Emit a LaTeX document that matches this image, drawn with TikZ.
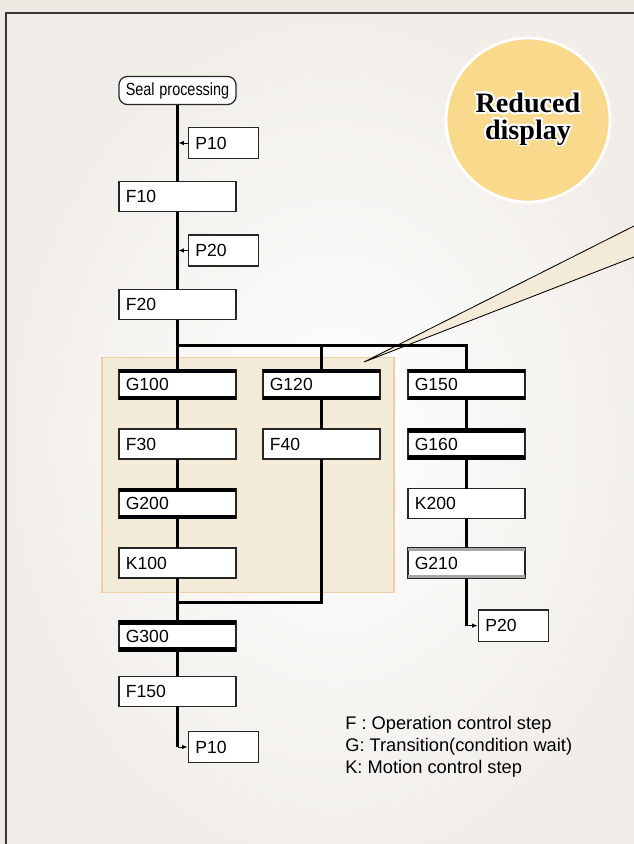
\documentclass[tikz,border=0pt]{standalone}
\usepackage{fontspec}
\setmainfont{Liberation Sans}
\newfontfamily\titlefont{Liberation Serif}
\usepackage{graphicx}
\usepackage{contour}
\contourlength{1.3pt}
\contournumber{24}
\usetikzlibrary{arrows.meta, positioning, calc, backgrounds}

\definecolor{pagegray}{RGB}{236,233,227}
\definecolor{innergray}{RGB}{241,238,233}
\definecolor{framegray}{RGB}{55,55,55}
\definecolor{hlfill}{RGB}{243,234,216}
\definecolor{hldraw}{RGB}{240,208,163}
\definecolor{badgefill}{RGB}{249,217,140}

\begin{document}
\begin{tikzpicture}[
node distance=0.7375cm and 0.675cm,
box/.style={rectangle, draw=black!85, line width=0.9pt, fill=white, outer sep=0pt, text width=2.585cm, inner xsep=0.17cm, inner ysep=0pt, minimum height=0.75cm, align=left, font=\fontsize{12.5}{14}\selectfont},
pbox/.style={box, text width=1.41cm, minimum height=0.78cm},
startbox/.style={box, rounded corners=6pt, minimum height=0.7cm, align=center},
flow/.style={line width=1.8pt},
tip/.style={-{Latex[length=1.3mm, width=1.1mm]}, line width=0.5pt, shorten >=0.8pt},
gbar/.style={line width=3pt},
dbar/.style={line width=0.5pt, double=black!35, double distance=1.6pt},
badge/.style={circle, fill=badgefill, draw=white, line width=2pt, minimum size=4.1cm, align=center, font=\titlefont\bfseries\fontsize{20}{19}\selectfont},
legend/.style={align=left, inner sep=0pt, font=\fontsize{13}{15.6}\selectfont}
]
\useasboundingbox (0,0) rectangle (15.85,-21.1);

% main column
\node[startbox] (seal) at (4.4375,-2.2625) {\scalebox{0.82}[1]{Seal processing}};
\node[box, below=1.925cm of seal] (f10) {F10};
\node[box, below=1.95cm of f10] (f20) {F20};
\node[pbox, anchor=west, xshift=0.275cm] (p10a) at ($(seal.south)!0.5!(f10.north)$) {P10};
\node[pbox, anchor=west, xshift=0.275cm] (p20a) at ($(f10.south)!0.5!(f20.north)$) {P20};
\node[box, below=1.25cm of f20] (g100) {G100};
\node[box, below=of g100] (f30) {F30};
\node[box, below=of f30] (g200) {G200};
\node[box, below=of g200] (k100) {K100};
\node[box, below=1.075cm of k100] (g300) {G300};
\node[box, below=0.635cm of g300] (f150) {F150};
\node[pbox, below right=0.625cm and 0.275cm of f150.south] (p10b) {P10};

% second and third column
\node[box, right=of g100] (g120) {G120};
\node[box, below=of g120] (f40) {F40};
\node[box, right=0.7cm of g120] (g150) {G150};
\node[box, below=of g150] (g160) {G160};
\node[box, below=of g160] (k200) {K200};
\node[box, below=of k200] (g210) {G210};
\node[pbox, below right=0.8cm and 0.3cm of g210.south] (p20b) {P20};

\coordinate[below=0.65cm of f20.south] (split);
\coordinate[below=0.61cm of k100.south] (merge);

% transition bars
\foreach \n in {g100,g120,g150,g160,g200,g300}
  \draw[gbar] ([yshift=-1pt]\n.north west) -- ([yshift=-1pt]\n.north east)
              ([yshift=1pt]\n.south west) -- ([yshift=1pt]\n.south east);
\draw[dbar] ([yshift=-1pt]g210.north west) -- ([yshift=-1pt]g210.north east);
\draw[dbar] ([yshift=1pt]g210.south west) -- ([yshift=1pt]g210.south east);

% flow lines
\draw[flow] (seal) -- (f10);
\draw[flow] (f10) -- (f20);
\draw[flow] (f20) -- (g100);
\draw[flow] (split) -| (g120.north);
\draw[flow] (split) -| (g150.north);
\draw[flow] (g100) -- (f30) -- (g200) -- (k100) -- (g300) -- (f150);
\draw[flow] (g120) -- (f40);
\draw[flow] (f40.south) |- (merge);
\draw[flow] (g150) -- (g160) -- (k200) -- (g210);
\draw[flow] (f150) -- (f150.south |- p10b.west);
\draw[flow] (g210) -- (g210.south |- p20b.west);

\draw[tip] (p10a) -- (p10a.west -| seal.south);
\draw[tip] (p20a) -- (p20a.west -| seal.south);
\draw[tip] (f150.south |- p10b.west) -- (p10b);
\draw[tip] (g210.south |- p20b.west) -- (p20b);

% badge and key
\node[badge] (badge) at (13.2,-3.0) {\contour{white}{Reduced}\\\contour{white}{display}};
\node[legend, anchor=north west] (key) at (8.625,-17.9) {F : Operation control step\\G: Transition(condition wait)\\K: Motion control step};

\begin{pgfonlayer}{background}
\fill[pagegray] (0,0) rectangle (15.85,-21.1);
\shadedraw[inner color=white, outer color=innergray, draw=framegray, line width=1pt] (0.15,-0.325) rectangle (16.6,-21.8);
\filldraw[fill=hlfill, draw=hldraw, line width=0.8pt] ($(g100.north west)+(-0.425,0.3)$) rectangle ($(k100.south -| g120.east)+(0.35,-0.36)$);
\coordinate (tip) at ($(g120.north east)+(-0.4,0.1875)$);
\filldraw[fill=hlfill, draw=black, line width=0.6pt] (15.85,-5.65) -- (tip) -- (15.85,-6.425);
\end{pgfonlayer}
\end{tikzpicture}
\end{document}
